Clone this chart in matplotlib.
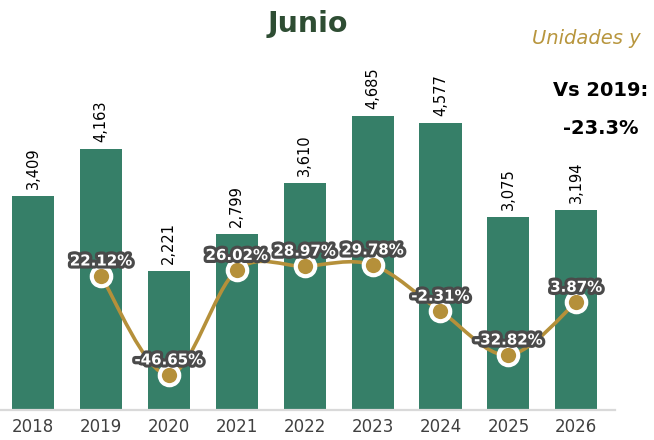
import matplotlib
matplotlib.use("Agg")
import matplotlib.pyplot as plt
import matplotlib.patheffects as pe
from matplotlib.path import Path
from matplotlib.patches import PathPatch
import numpy as np

years = ["2018", "2019", "2020", "2021", "2022", "2023", "2024", "2025", "2026"]
units = [3409, 4163, 2221, 2799, 3610, 4685, 4577, 3075, 3194]
# variacion anual, 2018 sin dato
growth = [None, 22.12, -46.65, 26.02, 28.97, 29.78, -2.31, -32.82, 3.87]

bar_color = "#367f68"
gold = "#b5903a"

fig = plt.figure(figsize=(6.54, 4.4), dpi=100)
W, H = 654, 440
# axes: x from 0 to 615 px, y from 410 px (bottom) to 20 px (top)
ax = fig.add_axes([0 / W, 1 - 410 / H, 615 / W, 390 / H])

x = np.arange(len(years))
ax.bar(x, units, width=0.62, color=bar_color, zorder=2)
ax.set_xlim(-0.486, 8.57)
ax.set_ylim(0, 6213)

for xi, v in zip(x, units):
    ax.annotate(f"{v:,}", (xi, v), xytext=(0, 7), textcoords="offset pixels",
                rotation=90, ha="center", va="bottom", fontsize=10.5, color="black")

ax.set_xticks(x)
ax.set_xticklabels(years, fontsize=12, color="#404040")
ax.tick_params(axis="x", length=0, pad=6)
ax.set_yticks([])
for s in ["top", "right", "left"]:
    ax.spines[s].set_visible(False)
ax.spines["bottom"].set_color("#d9d9d9")
ax.spines["bottom"].set_linewidth(1.6)

# eje secundario para la variacion
ax2 = ax.twinx()
ax2.set_ylim(-71, 200)
ax2.set_yticks([])
for s in ax2.spines.values():
    s.set_visible(False)

px = np.array([xi for xi, g in zip(x, growth) if g is not None], dtype=float)
py = np.array([g for g in growth if g is not None], dtype=float)

# linea suavizada (Catmull-Rom como curvas Bezier)
verts = [(px[0], py[0])]
codes = [Path.MOVETO]
n = len(px)
for i in range(n - 1):
    p0 = np.array([px[max(i - 1, 0)], py[max(i - 1, 0)]])
    p1 = np.array([px[i], py[i]])
    p2 = np.array([px[i + 1], py[i + 1]])
    p3 = np.array([px[min(i + 2, n - 1)], py[min(i + 2, n - 1)]])
    c1 = p1 + (p2 - p0) / 6
    c2 = p2 - (p3 - p1) / 6
    verts += [tuple(c1), tuple(c2), tuple(p2)]
    codes += [Path.CURVE4] * 3
ax2.add_patch(PathPatch(Path(verts, codes), fill=False, edgecolor=gold, lw=2.6, zorder=3))

ax2.plot(px, py, "o", color=gold, markersize=14, markeredgecolor="white",
         markeredgewidth=3, zorder=4)

for xi, g in zip(px, py):
    ax2.annotate(f"{g:.2f}%", (xi, g), xytext=(0, 15), textcoords="offset pixels",
                 ha="center", va="center", fontsize=10.8, fontweight="bold", color="white",
                 zorder=5, path_effects=[pe.withStroke(linewidth=4.5, foreground="#4a4a4a")])

fig.text(308 / W, 1 - 24 / H, "Junio", ha="center", va="center", fontsize=20.5,
         fontweight="bold", color="#2e4d33")
fig.text(532 / W, 1 - 38 / H, "Unidades y", ha="left", va="center", fontsize=14,
         style="italic", color="#b8963e")
fig.text(601 / W, 1 - 90 / H, "Vs 2019:", ha="center", va="center", fontsize=14,
         fontweight="bold", color="black")
fig.text(601 / W, 1 - 128 / H, "-23.3%", ha="center", va="center", fontsize=14,
         fontweight="bold", color="black")

fig.savefig("out.png", dpi=100)
